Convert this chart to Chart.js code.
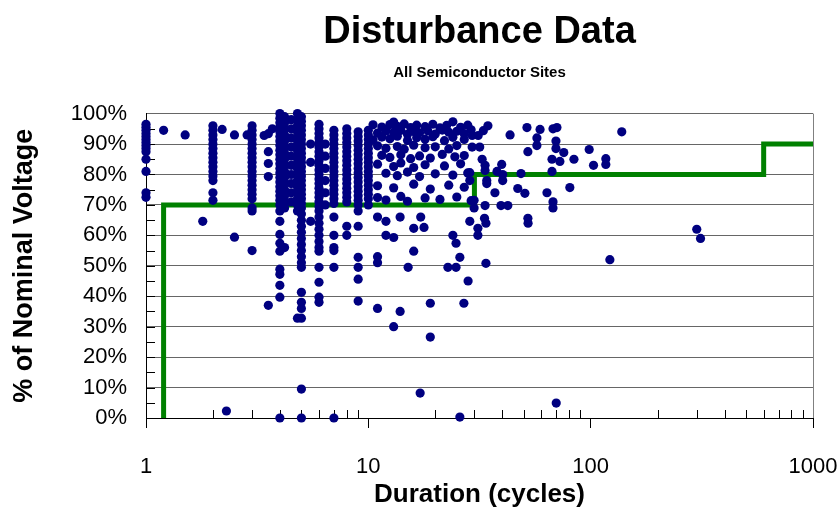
<!DOCTYPE html>
<html>
<head>
<meta charset="utf-8">
<script src="https://cdn.jsdelivr.net/npm/chart.js@4.4.1/dist/chart.umd.min.js"></script>
<style>
 html, body { margin: 0; padding: 0; background: #fff; }
 #wrap { width: 840px; height: 515px; }
</style>
</head>
<body>
<div id="wrap"><canvas id="disturbanceChart" width="840" height="515"></canvas></div>
<script>
// vertical stacks of events at the common durations (cycles)
const stackDurations = [1, 2, 3, 4, 4.2, 4.5, 4.8, 5, 6, 6.4, 7, 8, 9, 10];
const stackVoltages = [
 [96.5, 95.5, 94.5, 93.5, 92.5, 91.5, 90.5, 89.5, 88.5, 87.5, 85, 81, 74, 72.5],
 [96, 94.5, 93, 91.5, 90, 88.5, 87, 85.5, 84, 82.5, 81, 79.5, 78, 74, 71.5],
 [96, 94.5, 93, 91.5, 90, 88.5, 87, 85.5, 84, 82.5, 81, 79.5, 78, 76.5, 75, 73.5, 72, 69, 68, 55],
 [100, 98.5, 97, 95.5, 94, 92.5, 91, 89.5, 88, 86.5, 85, 83.5, 82, 80.5, 79, 77.5, 76, 74.5, 73, 71.5, 70, 68, 64.6, 60.3, 57.4, 54.8, 48.9, 47.2, 43.6, 39.7, 0],
 [99, 97, 95, 93, 91, 89, 87, 85, 83, 81, 79, 77, 75, 73, 71, 69, 56],
 [98, 95, 92, 89, 86, 83, 80, 77, 74, 71],
 [100, 98, 96, 94, 92, 90, 88, 86, 84, 82, 80, 78, 76, 74, 72, 70, 68, 32.8],
 [99, 97.5, 96, 94.5, 93, 91.5, 90, 88.5, 87, 85.5, 84, 82.5, 81, 79.5, 78, 76.5, 75, 73.5, 72, 70.5, 69, 67, 65, 63, 61, 59, 57, 55, 53, 51, 49.5, 41.3, 38, 36, 32.8, 9.5, 0],
 [96.5, 95, 93.5, 92, 90.5, 89, 87.5, 86, 84.5, 83, 81.5, 80, 78.5, 77, 75.5, 74, 72.5, 71, 69.5, 68, 66, 64, 62, 60, 58, 56, 54.8, 49.5, 44.6, 39.7, 38],
 [90, 86, 82, 78, 74, 70],
 [94.5, 93, 91.5, 90, 88.5, 87, 85.5, 84, 82.5, 81, 79.5, 78, 76.5, 75, 73.5, 72, 70.5, 66, 60, 56, 55, 49.5, 0],
 [95, 93.5, 92, 90.5, 89, 87.5, 86, 84.5, 83, 81.5, 80, 78.5, 77, 75.5, 74, 72.5, 71, 63, 60],
 [94, 92.5, 91, 89.5, 88, 86.5, 85, 83.5, 82, 80.5, 79, 77.5, 76, 74.5, 73, 71.5, 70, 68, 63, 52.8, 49.5, 45.6, 38.4],
 [94.5, 93, 91.5, 90, 88.5, 87, 85.5, 84, 82.5, 81, 79.5, 78, 76.5, 75, 73.5, 72, 70]
];

// remaining events as [duration, % voltage]
const looseEvents = [
 [1.2, 94.5], [1.5, 93], [1.8, 64.6], [2.2, 94.8], [2.3, 2.3], [2.5, 93], [2.5, 59.4],
 [2.85, 93], [3.4, 92.8], [3.55, 93.4], [3.55, 87.5], [3.55, 83.6], [3.55, 79.3],
 [3.7, 95], [3.55, 37], [5.5, 64.6], [5.5, 90], [5.5, 84],
 [10.5, 96.3], [11.5, 95.6], [12.5, 96.4], [13, 97.2], [13.5, 95.8], [14.5, 96.6], [15.5, 95.4],
 [16.5, 96.2], [18, 95.7], [19.5, 96.5], [21, 95.3], [22.5, 96.1], [24, 97.3], [26, 95.5], [28, 96.2],
 [11, 93.6], [12, 94.3], [13, 93.8], [14, 94.5], [15, 93.2], [16, 94.1], [17, 93.7], [18.5, 94.4],
 [20, 93.3], [21.5, 94.6], [23, 93.9], [25, 94.2], [27, 93.4], [29, 94.7],
 [10.5, 91.4], [11.5, 92.3], [12.5, 91.7], [13.5, 92.6], [15, 91.2], [16.5, 92.1], [18, 91.6],
 [19.5, 92.4], [22, 91.1], [24, 92.2], [27, 91.5],
 [11, 89.4], [12, 88.6], [13.5, 89.2], [14.5, 88.3], [16, 89.6], [18, 88.8], [20, 89.1], [23, 88.4], [25, 89.5],
 [11.5, 86.3], [12.5, 85.6], [14, 86.5], [15.5, 85.2], [17, 86.1], [19, 85.4], [21.5, 86.6], [24.5, 85.8], [27, 86.2],
 [11, 83.4], [13, 82.6], [14, 83.8], [16, 82.3], [18, 83.2], [22, 82.8], [26, 83.5],
 [12, 80.4], [13.5, 79.6], [15, 80.8], [17, 79.3], [20, 80.2], [24, 79.8], [28, 80.5],
 [11, 76.3], [13, 75.6], [16, 76.8], [19, 75.2], [23, 76.5], [27, 75.8],
 [11, 72.4], [12, 71.6], [14, 72.8], [15, 71.2], [18, 72.3], [21, 71.8], [25, 72.6], [29, 71.4],
 [11, 66], [11, 53], [11, 51], [11, 36], [12, 60], [12, 64.6], [13, 59.3], [13, 30],
 [13.9, 66], [13.9, 35], [15.1, 49.5], [16, 54.8], [16, 62.3], [17.2, 66], [17.8, 62.6],
 [17.1, 8.2], [19, 37.7], [19, 26.6], [22.8, 49.5], [24, 60], [24.8, 57.4], [24.8, 49.5],
 [25.8, 52.8], [25.8, 0.3], [26.9, 37.7], [28.1, 45], [28.6, 64.6], [31.1, 62.3], [31.1, 60],
 [33.8, 50.8], [33.8, 64], [52.3, 64], [122, 52], [300, 62], [312, 59], [70, 4.9],
 [34.5, 96], [32.9, 94.4], [31.2, 92.8], [29.3, 92.8], [29.3, 89], [31.7, 89], [43.4, 93],
 [51.7, 95.4], [59.2, 94.8], [57.3, 92], [57.3, 89.5], [52.2, 87.5], [67.7, 95], [70.5, 95.4],
 [69.8, 91], [69.8, 88.5], [75.7, 87.2], [67, 85], [72.7, 84.3], [84.1, 85], [98.5, 88.2],
 [103, 83], [117, 85.2], [117, 83.3], [138, 94], [32.5, 85], [33.5, 83], [33.5, 81.3],
 [39.8, 83.3], [37.9, 81], [40.2, 80], [40.2, 78], [48.6, 80.3], [67, 81], [34.1, 78],
 [34.1, 77], [28.6, 80.6], [28.6, 78], [37.1, 74], [47, 75.4], [50.6, 73.8], [63.6, 74],
 [80.6, 75.7], [67.7, 71], [67.7, 69], [33.5, 69.8], [39.5, 69.8], [42.4, 69.8],
 [29.9, 71.5], [29.9, 69], [33.3, 65.6], [52.2, 65.6]
];

// SEMI F47 style ride-through curve
const curveDurations = [1.2, 1.2, 30, 30, 600, 600, 1000];
const curveVoltages = [0, 70, 70, 80, 80, 90, 90];

const xTickValues = [1, 10, 100, 1000];

const eventPoints = [];
stackDurations.forEach(function (d, i) {
 stackVoltages[i].forEach(function (v) { eventPoints.push({ x: d, y: v }); });
});
looseEvents.forEach(function (e) { eventPoints.push({ x: e[0], y: e[1] }); });

const curvePoints = curveDurations.map(function (d, i) { return { x: d, y: curveVoltages[i] }; });

const fontFamily = 'Liberation Sans, Arial, sans-serif';

// small inward minor ticks and the right frame line
const frameTicks = {
 id: 'frameTicks',
 beforeDatasetsDraw(chart) {
  const { ctx, chartArea, scales } = chart;
  ctx.save();
  ctx.strokeStyle = '#808080';
  ctx.lineWidth = 1;
  ctx.beginPath();
  ctx.moveTo(Math.round(chartArea.right) + 0.5, chartArea.top);
  ctx.lineTo(Math.round(chartArea.right) + 0.5, chartArea.bottom);
  ctx.stroke();

  ctx.strokeStyle = '#000';
  ctx.beginPath();
  for (let dec = 1; dec < 1000; dec *= 10) {
   for (let m = 2; m <= 9; m++) {
    const px = Math.round(scales.x.getPixelForValue(m * dec)) + 0.5;
    ctx.moveTo(px, chartArea.bottom);
    ctx.lineTo(px, chartArea.bottom - 8);
   }
  }
  for (let v = 5; v < 100; v += 5) {
   const py = Math.round(scales.y.getPixelForValue(v)) + 0.5;
   ctx.moveTo(chartArea.left, py);
   ctx.lineTo(chartArea.left + 9, py);
  }
  ctx.stroke();
  ctx.restore();
 }
};

const ctx = document.getElementById('disturbanceChart').getContext('2d');

window.disturbanceChart = new Chart(ctx, {
 type: 'scatter',
 data: {
  datasets: [
   {
    label: 'Events',
    data: eventPoints,
    backgroundColor: '#000080',
    borderColor: '#000080',
    borderWidth: 0,
    pointRadius: 4.6,
    clip: false
   },
   {
    label: 'Curve',
    data: curvePoints,
    showLine: true,
    borderColor: '#008000',
    borderWidth: 5,
    pointRadius: 0,
    fill: false,
    clip: false
   }
  ]
 },
 plugins: [frameTicks],
 options: {
  responsive: false,
  animation: false,
  events: [],
  layout: { padding: { left: 8, right: 27, top: 0, bottom: 3 } },
  plugins: {
   legend: { display: false },
   tooltip: { enabled: false },
   title: {
    display: true,
    fullSize: false,
    text: 'Disturbance Data',
    color: '#000',
    font: { family: fontFamily, size: 38, weight: 'bold' },
    padding: { top: 10, bottom: 0 }
   },
   subtitle: {
    display: true,
    fullSize: false,
    text: 'All Semiconductor Sites',
    color: '#000',
    font: { family: fontFamily, size: 15, weight: 'bold' },
    padding: { top: 8, bottom: 32 }
   }
  },
  scales: {
   x: {
    type: 'logarithmic',
    min: 1,
    max: 1000,
    afterBuildTicks: function (scale) {
     scale.ticks = xTickValues.map(function (v) { return { value: v }; });
    },
    afterFit: function (scale) {
     scale.height = 94;
     scale.paddingRight = 20;
    },
    ticks: {
     color: '#000',
     font: { family: fontFamily, size: 22 },
     padding: 26,
     maxRotation: 0,
     autoSkip: false,
     callback: function (v) { return String(v); }
    },
    grid: { drawOnChartArea: false, drawTicks: true, tickLength: 10, tickColor: '#000' },
    border: { color: '#000', width: 1 },
    title: {
     display: true,
     text: 'Duration (cycles)',
     color: '#000',
     font: { family: fontFamily, size: 26, weight: 'bold' },
     padding: { top: 2, bottom: 2 }
    }
   },
   y: {
    min: 0,
    max: 100,
    afterFit: function (scale) {
     scale.width = 138;
    },
    ticks: {
     stepSize: 10,
     autoSkip: false,
     color: '#000',
     font: { family: fontFamily, size: 22 },
     padding: 19,
     callback: function (v) { return v + '%'; }
    },
    grid: { color: '#666', drawTicks: false, lineWidth: 1 },
    border: { color: '#000', width: 1 },
    title: {
     display: true,
     text: '% of Nominal Voltage',
     color: '#000',
     font: { family: fontFamily, size: 27, weight: 'bold' },
     padding: { top: 0, bottom: 10 }
    }
   }
  }
 }
});
</script>
</body>
</html>
